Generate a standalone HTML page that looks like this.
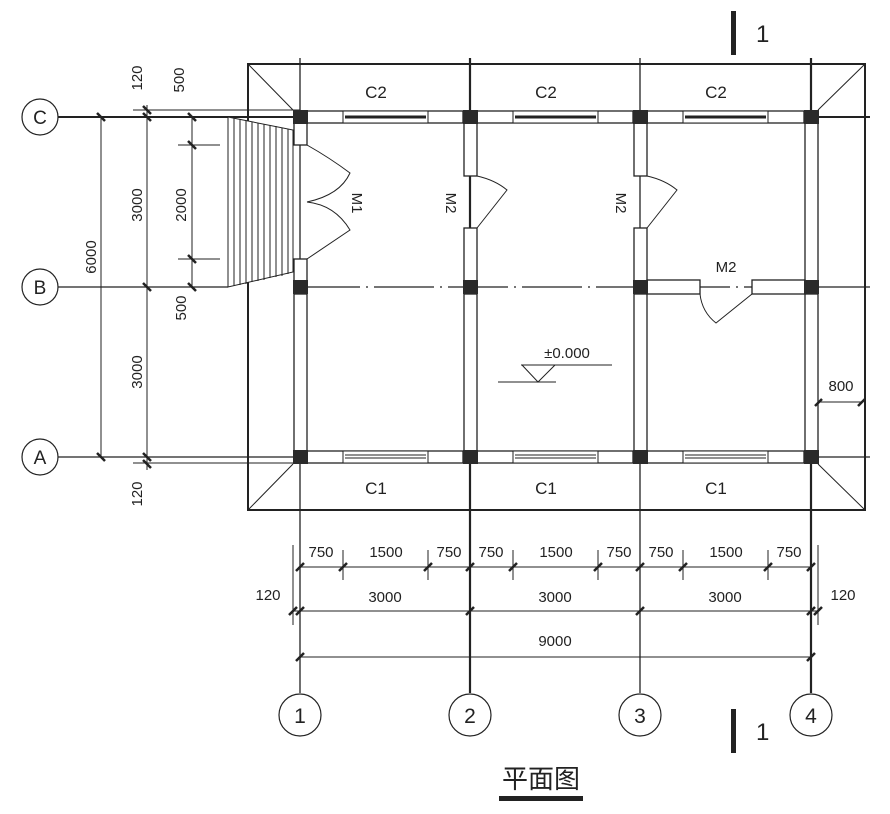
<!DOCTYPE html>
<html><head><meta charset="utf-8"><style>
html,body{margin:0;padding:0;background:#fff;width:890px;height:814px;overflow:hidden}
svg{display:block}
text{font-family:"Liberation Sans","Noto Sans CJK SC",sans-serif;fill:#222}
</style></head><body>
<svg width="890" height="814" viewBox="0 0 890 814" xmlns="http://www.w3.org/2000/svg" stroke="#222" fill="none">
<!-- roof outline -->
<rect x="248" y="64" width="617" height="446" stroke-width="2"/>
<line x1="248" y1="64" x2="293" y2="110" stroke-width="1"/>
<line x1="865" y1="64" x2="818" y2="110" stroke-width="1"/>
<line x1="248" y1="510" x2="293" y2="464" stroke-width="1"/>
<line x1="865" y1="510" x2="818" y2="464" stroke-width="1"/>
<!-- grid lines -->
<g stroke-width="1.3">
<line x1="300" y1="58" x2="300" y2="693"/>
<line x1="470" y1="58" x2="470" y2="693" stroke-width="2.2"/>
<line x1="640" y1="58" x2="640" y2="693"/>
<line x1="811" y1="58" x2="811" y2="693" stroke-width="2.2"/>
<line x1="57" y1="117" x2="870" y2="117" stroke-width="2"/>
<line x1="57" y1="287" x2="228" y2="287"/>
<line x1="300" y1="287" x2="870" y2="287" stroke-dasharray="60 6 2 6"/>
<line x1="57" y1="457" x2="870" y2="457"/>
<line x1="133" y1="110" x2="300" y2="110" stroke-width="1"/>
<line x1="133" y1="463" x2="300" y2="463" stroke-width="1"/>
</g>
<!-- walls horizontal C and A -->
<g stroke-width="1.3" fill="#fff">
<rect x="307" y="111" width="156" height="12"/>
<rect x="477" y="111" width="156" height="12"/>
<rect x="647" y="111" width="157" height="12"/>
<rect x="307" y="451" width="156" height="12"/>
<rect x="477" y="451" width="156" height="12"/>
<rect x="647" y="451" width="157" height="12"/>
</g>
<!-- windows -->
<g stroke-width="1">
<rect x="343" y="111" width="85" height="12" fill="#fff"/><line x1="345" y1="117" x2="426" y2="117" stroke-width="3"/>
<rect x="513" y="111" width="85" height="12" fill="#fff"/><line x1="515" y1="117" x2="596" y2="117" stroke-width="3"/>
<rect x="683" y="111" width="85" height="12" fill="#fff"/><line x1="685" y1="117" x2="766" y2="117" stroke-width="3"/>
<rect x="343" y="451" width="85" height="12" fill="#fff"/><line x1="345" y1="455" x2="426" y2="455"/><line x1="345" y1="458" x2="426" y2="458"/>
<rect x="513" y="451" width="85" height="12" fill="#fff"/><line x1="515" y1="455" x2="596" y2="455"/><line x1="515" y1="458" x2="596" y2="458"/>
<rect x="683" y="451" width="85" height="12" fill="#fff"/><line x1="685" y1="455" x2="766" y2="455"/><line x1="685" y1="458" x2="766" y2="458"/>
</g>
<!-- vertical walls -->
<g stroke-width="1.3" fill="#fff">
<rect x="294" y="123" width="13" height="22"/>
<rect x="294" y="259" width="13" height="22"/>
<rect x="294" y="294" width="13" height="157"/>
<rect x="464" y="123" width="13" height="53"/>
<rect x="464" y="228" width="13" height="53"/>
<rect x="464" y="294" width="13" height="157"/>
<rect x="634" y="123" width="13" height="53"/>
<rect x="634" y="228" width="13" height="53"/>
<rect x="634" y="294" width="13" height="157"/>
<rect x="805" y="123" width="13" height="158"/>
<rect x="805" y="294" width="13" height="157"/>
<rect x="647" y="280" width="53" height="14"/>
<rect x="752" y="280" width="53" height="14"/>
</g>
<!-- stairs -->
<g stroke-width="1">
<polygon points="228,117 293,130 293,272 228,287" fill="#fff"/>
<path d="M234,118V286M240,119V285M246,120V284M252,122V282M258,123V281M264,124V280M270,125V278M276,126V277M282,128V276M288,129V274"/>
</g>
<!-- doors -->
<g stroke-width="1">
<path d="M307,145 Q330,158 350,173 Q340,195 307,202"/>
<path d="M307,202 Q335,205 350,230 L307,259"/>
<path d="M477,176 Q495,180 507,190 L477,228"/>
<path d="M647,176 Q665,180 677,190 L647,228"/>
<path d="M700,294 Q702,312 716,323 L752,294"/>
</g>
<!-- columns -->
<g fill="#2a2a2a" stroke="none">
<rect x="293" y="110" width="15" height="14"/><rect x="463" y="110" width="15" height="14"/><rect x="633" y="110" width="15" height="14"/><rect x="804" y="110" width="15" height="14"/>
<rect x="293" y="280" width="15" height="14"/><rect x="463" y="280" width="15" height="14"/><rect x="633" y="280" width="15" height="14"/><rect x="804" y="280" width="15" height="14"/>
<rect x="293" y="450" width="15" height="14"/><rect x="463" y="450" width="15" height="14"/><rect x="633" y="450" width="15" height="14"/><rect x="804" y="450" width="15" height="14"/>
</g>
<!-- left dims -->
<g stroke-width="1">
<line x1="101" y1="117" x2="101" y2="457"/>
<line x1="147" y1="105" x2="147" y2="470"/>
<line x1="192" y1="117" x2="192" y2="287"/>
<line x1="178" y1="145" x2="220" y2="145"/>
<line x1="178" y1="259" x2="220" y2="259"/>
</g>
<g stroke-width="2.5">
<path d="M97,113l8,8M97,453l8,8M143,113l8,8M143,106l8,8M143,283l8,8M143,453l8,8M143,460l8,8M188,113l8,8M188,141l8,8M188,255l8,8M188,283l8,8"/>
</g>
<!-- bottom dims -->
<g stroke-width="1">
<line x1="300" y1="567" x2="811" y2="567"/>
<line x1="293" y1="611" x2="818" y2="611"/>
<line x1="300" y1="657" x2="811" y2="657"/>
<line x1="293" y1="545" x2="293" y2="625"/>
<line x1="818" y1="545" x2="818" y2="625"/>
<path d="M343,550V580M428,550V580M513,550V580M598,550V580M683,550V580M768,550V580"/>
</g>
<g stroke-width="2.5">
<path d="M296,571l8,-8M339,571l8,-8M424,571l8,-8M466,571l8,-8M509,571l8,-8M594,571l8,-8M636,571l8,-8M679,571l8,-8M764,571l8,-8M807,571l8,-8M289,615l8,-8M296,615l8,-8M466,615l8,-8M636,615l8,-8M807,615l8,-8M814,615l8,-8M296,661l8,-8M807,661l8,-8"/>
</g>
<line x1="818" y1="402" x2="862" y2="402" stroke-width="1"/>
<path d="M815,406l7,-7M858,406l7,-7" stroke-width="2.5"/>
<!-- elevation -->
<g stroke-width="1">
<line x1="521" y1="365" x2="612" y2="365"/>
<path d="M522,365L538,382L555,365"/>
<line x1="498" y1="382" x2="556" y2="382"/>
</g>
<!-- bubbles -->
<g stroke-width="1.2" fill="#fff">
<circle cx="40" cy="117" r="18"/><circle cx="40" cy="287" r="18"/><circle cx="40" cy="457" r="18"/>
<circle cx="300" cy="715" r="21"/><circle cx="470" cy="715" r="21"/><circle cx="640" cy="715" r="21"/><circle cx="811" cy="715" r="21"/>
</g>
<!-- section marks -->
<g fill="#222" stroke="none">
<rect x="731" y="11" width="5" height="44"/>
<rect x="731" y="709" width="5" height="44"/>
<rect x="499" y="796" width="84" height="5"/>
</g>
<g stroke="none" font-size="17">
<text x="40" y="124" text-anchor="middle" font-size="19">C</text>
<text x="40" y="294" text-anchor="middle" font-size="19">B</text>
<text x="40" y="464" text-anchor="middle" font-size="19">A</text>
<text x="300" y="723" text-anchor="middle" font-size="21">1</text>
<text x="470" y="723" text-anchor="middle" font-size="21">2</text>
<text x="640" y="723" text-anchor="middle" font-size="21">3</text>
<text x="811" y="723" text-anchor="middle" font-size="21">4</text>
<text x="756" y="42" font-size="24">1</text>
<text x="756" y="740" font-size="24">1</text>
<text x="376" y="98" text-anchor="middle">C2</text>
<text x="546" y="98" text-anchor="middle">C2</text>
<text x="716" y="98" text-anchor="middle">C2</text>
<text x="376" y="494" text-anchor="middle">C1</text>
<text x="546" y="494" text-anchor="middle">C1</text>
<text x="716" y="494" text-anchor="middle">C1</text>
<text x="726" y="272" text-anchor="middle" font-size="15">M2</text>
<text x="567" y="358" text-anchor="middle" font-size="15">±0.000</text>
<text x="841" y="391" text-anchor="middle" font-size="15">800</text>
<g font-size="15" text-anchor="middle">
<text x="321" y="557">750</text><text x="386" y="557">1500</text><text x="449" y="557">750</text>
<text x="491" y="557">750</text><text x="556" y="557">1500</text><text x="619" y="557">750</text>
<text x="661" y="557">750</text><text x="726" y="557">1500</text><text x="789" y="557">750</text>
<text x="385" y="602">3000</text><text x="555" y="602">3000</text><text x="725" y="602">3000</text>
<text x="555" y="646">9000</text>
<text x="268" y="600">120</text><text x="843" y="600">120</text>
</g>
<g font-size="15" text-anchor="middle">
<text transform="translate(142,78) rotate(-90)">120</text>
<text transform="translate(184,80) rotate(-90)">500</text>
<text transform="translate(142,205) rotate(-90)">3000</text>
<text transform="translate(186,205) rotate(-90)">2000</text>
<text transform="translate(96,257) rotate(-90)">6000</text>
<text transform="translate(186,308) rotate(-90)">500</text>
<text transform="translate(142,372) rotate(-90)">3000</text>
<text transform="translate(142,494) rotate(-90)">120</text>
<text transform="translate(352,203) rotate(90)">M1</text>
<text transform="translate(446,203) rotate(90)">M2</text>
<text transform="translate(616,203) rotate(90)">M2</text>
</g>
<text x="541" y="788" text-anchor="middle" font-size="26" font-family="'Noto Serif CJK SC','Noto Sans CJK SC',serif">平面图</text>
</g>
</svg>
</body></html>
